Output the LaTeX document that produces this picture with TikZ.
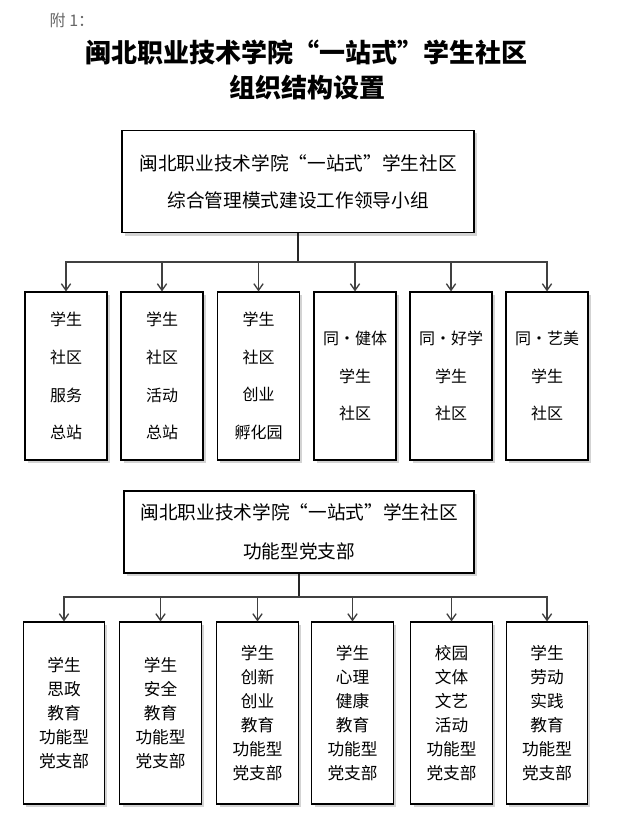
\documentclass[tikz,border=0pt]{standalone}
\usepackage{fontspec}
\setmainfont{Noto Sans CJK SC}
\usepackage{tikz}
\usetikzlibrary{arrows.meta,shadows}

\tikzset{
  box/.style={draw, fill=white, line width=0.8pt, inner sep=0pt, align=center,
    drop shadow={shadow xshift=2pt, shadow yshift=-2pt, opacity=0.35}},
  leadbox/.style={box, minimum width=264pt, minimum height=77pt,
    font=\fontsize{14}{27.75}\selectfont},
  partybox/.style={box, minimum width=262.5pt, minimum height=61.5pt,
    font=\fontsize{14}{29.25}\selectfont},
  unitbox/.style={box, minimum width=61.5pt, minimum height=126pt,
    font=\fontsize{12}{28.3}\selectfont},
  branchbox/.style={box, minimum width=61pt, minimum height=136.5pt,
    font=\fontsize{12.5}{18}\selectfont},
  stem/.style={line width=2pt, draw=black!85},
  link/.style={line width=1pt, draw=black!75, -{Straight Barb[length=5pt,width=7pt]}}
}

\begin{document}
\begin{tikzpicture}[x=0.75pt, y=-0.75pt]
        \useasboundingbox (0,0) rectangle (619,831);

        \node[anchor=west, text=black!60, font=\fontsize{12}{14}\selectfont] (note) at (45,20) {附 1：};
        \node[font=\fontsize{19.5}{26}\selectfont\bfseries] (title) at (306,52) {闽北职业技术学院“一站式”学生社区};
        \node[font=\fontsize{19.5}{26}\selectfont\bfseries] (subtitle) at (307,88) {组织结构设置};

        \node[leadbox] (lead) at (298,181.5) {闽北职业技术学院“一站式”学生社区\\综合管理模式建设工作领导小组};
        \coordinate (j1) at (298,262);

        \node[unitbox] (s1) at (66,376) {学生\\社区\\服务\\总站};
        \node[unitbox] (s2) at (162,376) {学生\\社区\\活动\\总站};
        \node[unitbox] (s3) at (258.5,376) {学生\\社区\\创业\\孵化园};
        \node[unitbox] (s4) at (355,376) {同·健体\\学生\\社区};
        \node[unitbox] (s5) at (451,376) {同·好学\\学生\\社区};
        \node[unitbox] (s6) at (547,376) {同·艺美\\学生\\社区};

        \draw[stem] (lead) -- (j1);
        \draw[link] (j1) -| (s1);
        \draw[link] (j1) -| (s2);
        \draw[link] (j1) -| (s3);
        \draw[link] (j1) -| (s4);
        \draw[link] (j1) -| (s5);
        \draw[link] (j1) -| (s6);

        \node[partybox] (party) at (299,532) {闽北职业技术学院“一站式”学生社区\\功能型党支部};
        \coordinate (j2) at (299,597);

        \node[branchbox] (b1) at (64,713) {学生\\思政\\教育\\功能型\\党支部};
        \node[branchbox] (b2) at (160.5,713) {学生\\安全\\教育\\功能型\\党支部};
        \node[branchbox] (b3) at (257.5,713) {学生\\创新\\创业\\教育\\功能型\\党支部};
        \node[branchbox] (b4) at (352.5,713) {学生\\心理\\健康\\教育\\功能型\\党支部};
        \node[branchbox] (b5) at (451.5,713) {校园\\文体\\文艺\\活动\\功能型\\党支部};
        \node[branchbox] (b6) at (547,713) {学生\\劳动\\实践\\教育\\功能型\\党支部};

        \draw[stem] (party) -- (j2);
        \draw[link] (j2) -| (b1);
        \draw[link] (j2) -| (b2);
        \draw[link] (j2) -| (b3);
        \draw[link] (j2) -| (b4);
        \draw[link] (j2) -| (b5);
        \draw[link] (j2) -| (b6);
    \end{tikzpicture}
\end{document}
